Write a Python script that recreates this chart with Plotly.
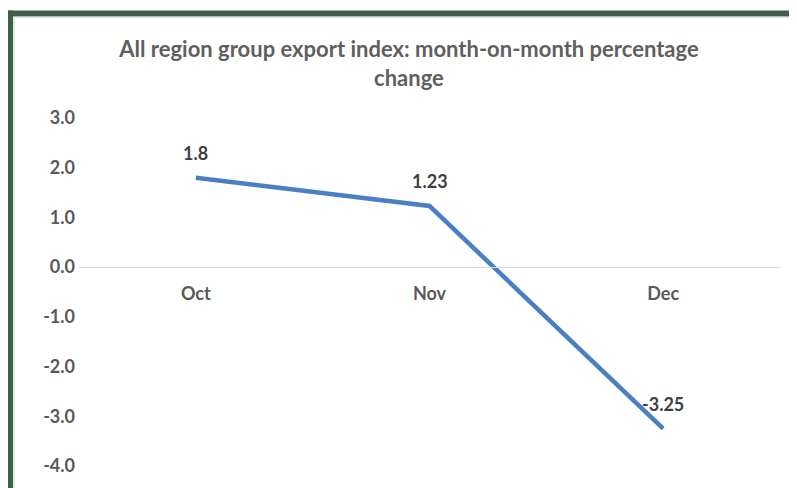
import plotly.graph_objects as go

months = ["Oct", "Nov", "Dec"]
pct_change = [1.8, 1.23, -3.25]
label_text = ["1.8", "1.23", "-3.25"]
y_ticks = [3, 2, 1, 0, -1, -2, -3, -4]
y_tick_labels = ["3.0", "2.0", "1.0", "0.0", "-1.0", "-2.0", "-3.0", "-4.0"]

# figure is drawn inside the page body (8px default margin)
W, H = 789, 480
L, R, T, B = 71, 17, 110, 20
pw = W - L - R
ph = H - T - B

def px_x(x):
    return (x - L) / pw

def px_y(y):
    return 1 - (y - T) / ph

fig = go.Figure()
fig.add_trace(go.Scatter(
    x=months, y=pct_change, mode="lines",
    line=dict(color="#4a7fc4", width=4.5),
    cliponaxis=False, hoverinfo="skip",
))

for m, v, t in zip(months, pct_change, label_text):
    fig.add_annotation(
        x=m, y=v, text=t, showarrow=False, yanchor="middle", yshift=25,
        font=dict(family="Lato", size=18, color="#404040", weight="bold"),
    )

green = "#3e5e47"
fig.update_layout(
    width=W, height=H,
    margin=dict(l=L, r=R, t=T, b=B),
    paper_bgcolor="white", plot_bgcolor="white",
    showlegend=False,
    title=dict(
        text="All region group export index: month-on-month percentage<br>change",
        x=(409 - 8) / W, xanchor="center", y=1 - 49 / H, yanchor="middle",
        font=dict(family="Lato", size=22, color="#5f5f5f", weight="bold"),
    ),
    xaxis=dict(
        type="category", range=[-0.5, 2.5],
        anchor="free", position=(460 - 260) / ph,
        showline=True, linecolor="#d9d9d9", linewidth=1,
        showgrid=False, zeroline=False, ticks="", ticklen=0,
        ticklabelstandoff=10,
        tickfont=dict(family="Lato", size=18, color="#595959", weight="bold"),
    ),
    yaxis=dict(
        range=[-4, 3], tickvals=y_ticks, ticktext=y_tick_labels,
        showgrid=False, zeroline=False, showline=False,
        ticks="", ticklen=0, ticklabelstandoff=3,
        tickfont=dict(family="Lato", size=18, color="#595959", weight="bold"),
    ),
    shapes=[
        dict(type="rect", xref="paper", yref="paper",
             x0=px_x(-2), x1=px_x(5), y0=px_y(H + 5), y1=px_y(2),
             fillcolor=green, line=dict(width=0), layer="above"),
        dict(type="rect", xref="paper", yref="paper",
             x0=px_x(-2), x1=px_x(W + 5), y0=px_y(8), y1=px_y(2),
             fillcolor=green, line=dict(width=0), layer="above"),
        dict(type="line", xref="paper", yref="paper",
             x0=px_x(6), x1=px_x(6), y0=px_y(H + 5), y1=px_y(9),
             line=dict(color="#dcdcdc", width=1.5)),
        dict(type="line", xref="paper", yref="paper",
             x0=px_x(6), x1=px_x(W + 5), y0=px_y(9), y1=px_y(9),
             line=dict(color="#e4e4e4", width=1.5)),
    ],
)

fig.write_html("out.html")
